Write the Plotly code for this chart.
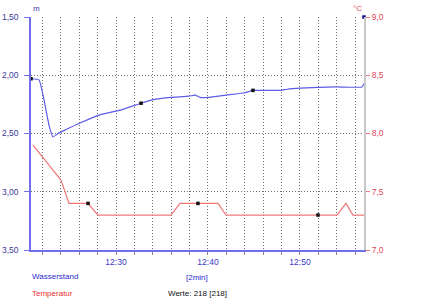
import plotly.graph_objects as go

# time in minutes after 12:00
water_t = [20.76, 21.63, 22.17, 22.72, 23.15, 23.70, 24.46, 26.09, 28.26, 30.43, 32.72, 34.02,
           35.98, 37.93, 38.59, 39.13, 40.0, 41.96, 44.02, 44.89, 45.98, 47.93, 48.59, 50.0,
           53.91, 56.74, 56.96]
water_v = [2.03, 2.04, 2.21, 2.43, 2.53, 2.50, 2.47, 2.41, 2.34, 2.30, 2.24, 2.21,
           2.19, 2.18, 2.17, 2.19, 2.19, 2.17, 2.15, 2.13, 2.13, 2.13, 2.12, 2.11,
           2.10, 2.10, 2.07]
water_mark_t = [20.76, 32.72, 44.89]
water_mark_v = [2.03, 2.24, 2.13]

temp_t = [20.98, 24.02, 24.89, 26.96, 28.04, 35.98, 36.96, 41.09, 41.96, 54.02, 55.0, 55.76, 56.96]
temp_v = [7.9, 7.6, 7.4, 7.4, 7.3, 7.3, 7.4, 7.4, 7.3, 7.3, 7.4, 7.3, 7.3]
temp_mark_t = [26.96, 38.91, 51.96]
temp_mark_v = [7.4, 7.4, 7.3]
end_mark_t = [56.96]
end_mark_v = [9.0]

x_range = [20.76, 56.96]
x_tickvals = [22, 24, 26, 28, 30, 32, 34, 36, 38, 40, 42, 44, 46, 48, 50, 52, 54, 56]
x_ticktext = ["", "", "", "", "12:30", "", "", "", "", "12:40", "", "", "", "", "12:50", "", "", ""]
left_ticks = [1.5, 2.0, 2.5, 3.0, 3.5]
right_ticks = [7.0, 7.5, 8.0, 8.5, 9.0]

FONT = "Liberation Sans, Arial, sans-serif"
BLUE = "#5c5ce6"
RED = "#f07878"
GRID = "#707070"

fig = go.Figure()
fig.add_trace(go.Scatter(x=temp_t, y=temp_v, yaxis="y2", mode="lines",
                         line=dict(color=RED, width=1.2), hoverinfo="skip"))
fig.add_trace(go.Scatter(x=water_t, y=water_v, mode="lines",
                         line=dict(color=BLUE, width=1.2, shape="spline", smoothing=0.4),
                         hoverinfo="skip"))
fig.add_trace(go.Scatter(x=water_mark_t, y=water_mark_v, mode="markers",
                         marker=dict(symbol="square", size=3.5, color="#111111")))
fig.add_trace(go.Scatter(x=temp_mark_t, y=temp_mark_v, yaxis="y2", mode="markers",
                         marker=dict(symbol="square", size=3.5, color="#111111")))
fig.add_trace(go.Scatter(x=end_mark_t, y=end_mark_v, yaxis="y2", mode="markers",
                         marker=dict(symbol="square", size=3.5, color="#101080"), cliponaxis=False))

fig.update_layout(
    width=440, height=304,
    margin=dict(l=31, r=76, t=17, b=54),
    paper_bgcolor="white", plot_bgcolor="white",
    showlegend=False,
    separators=",.",
    font=dict(family=FONT, size=8),
    xaxis=dict(range=x_range, tickvals=x_tickvals, ticktext=x_ticktext, automargin=False,
               showgrid=True, gridcolor=GRID, griddash="1px,2px", gridwidth=1,
               showline=True, linecolor="#7070ea", linewidth=1.5,
               ticks="outside", ticklen=3, tickcolor="#888888",
               tickfont=dict(color="#3a3ac8", size=8.5), zeroline=False),
    yaxis=dict(range=[3.5, 1.5], tickvals=left_ticks, tickformat=".2f", automargin=False,
               showgrid=True, gridcolor=GRID, griddash="1px,2px", gridwidth=1,
               showline=True, linecolor="#7070ea", linewidth=1.5,
               ticks="outside", ticklen=5, tickcolor="#7070ea", ticklabelstandoff=4,
               tickfont=dict(color="#3a3a9a", size=8.5), zeroline=False),
    yaxis2=dict(range=[7.0, 9.0], tickvals=right_ticks, tickformat=".1f", automargin=False,
                overlaying="y", side="right", showgrid=False,
                showline=True, linecolor="#c8c8c8", linewidth=2,
                ticks="outside", ticklen=4, tickcolor="#f07878",
                tickfont=dict(color="#e04858", size=8.5), zeroline=False),
    annotations=[
        dict(text="m", x=0.0, y=1.0, xref="paper", yref="paper", xanchor="left",
             yanchor="bottom", yshift=2, showarrow=False, font=dict(color="#3a3a9a", size=8)),
        dict(text="°C", x=1.0, y=1.0, xref="paper", yref="paper", xanchor="right",
             yanchor="bottom", yshift=2, showarrow=False, font=dict(color="#e04858", size=8)),
        dict(text="Wasserstand", x=-0.003, y=-0.112, xref="paper", yref="paper",
             xanchor="left", yanchor="middle", showarrow=False,
             font=dict(color="#2a2ad0", size=8)),
        dict(text="Temperatur", x=-0.003, y=-0.185, xref="paper", yref="paper",
             xanchor="left", yanchor="middle", showarrow=False,
             font=dict(color="#e83030", size=8)),
        dict(text="[2min]", x=0.498, y=-0.116, xref="paper", yref="paper",
             xanchor="center", yanchor="middle", showarrow=False,
             font=dict(color="#2a2ad0", size=8)),
        dict(text="Werte: 218 [218]", x=0.5, y=-0.185, xref="paper", yref="paper",
             xanchor="center", yanchor="middle", showarrow=False,
             font=dict(color="#111111", size=8)),
    ],
)

fig.write_html("out.html")
